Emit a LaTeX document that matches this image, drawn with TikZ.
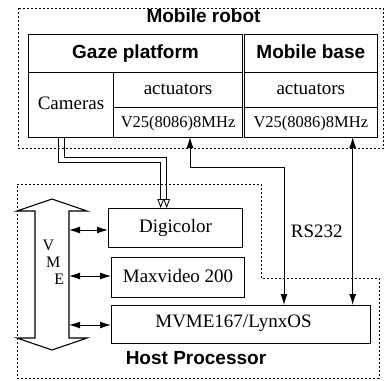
\documentclass[tikz,border=0pt]{standalone}
\usepackage{fontspec}
\setmainfont{Liberation Serif}
\newfontfamily\hvfont{Liberation Sans}
\usetikzlibrary{arrows.meta}
\tikzset{
  txt/.style={font=\fontsize{19}{22}\selectfont},
  small/.style={font=\fontsize{16.5}{20}\selectfont},
  ttl/.style={font=\hvfont\bfseries\fontsize{19}{22}\selectfont, inner sep=0pt, anchor=base},
  cell/.style={draw, line width=1.1pt, inner sep=0pt, anchor=north west, txt,
               text height=13pt, text depth=4pt},
  hcell/.style={cell, font=\hvfont\bfseries\fontsize{19}{22}\selectfont},
  hostbox/.style={draw, line width=1.1pt, inner sep=0pt, anchor=north west, txt,
               text height=13pt, text depth=4pt},
  dotline/.style={line width=0.9pt, dash pattern=on 2pt off 2pt},
  link/.style={line width=1pt, {Latex[length=11pt,width=7pt]}-{Latex[length=11pt,width=7pt]}},
  videolink/.style={line width=0.8pt, -{Triangle[open,length=9pt,width=6.5pt]}},
  bus/.style={line width=1.1pt, line join=miter},
  busletter/.style={font=\fontsize{16}{18}\selectfont, inner sep=0pt, anchor=base}
}
\begin{document}
\begin{tikzpicture}[x=1pt,y=-1pt]
\useasboundingbox (0,0) rectangle (385,380);

% dotted enclosures
\draw[dotline] (18,8) rectangle (383,148.5);
\draw[dotline] (17,184) -- (261,184) -- (261,278) -- (379,278) -- (379,378) -- (17,378) -- cycle;
\node[ttl] (robotlbl) at (203.5,22) {Mobile robot};
\node[ttl] (hostlbl) at (196,364) {Host Processor};

% gaze platform table
\node[hcell, minimum width=214pt, minimum height=38pt] (gazehead) at (28,34) {Gaze platform};
\node[cell, minimum width=85pt, minimum height=65pt] (cameras) at (28,72) {Cameras};
\node[cell, minimum width=129pt, minimum height=35pt] (gact) at (113,72) {actuators};
\node[cell, small, minimum width=129pt, minimum height=30pt] (gv25) at (113,107) {V25(8086)8MHz};

% mobile base table
\node[hcell, minimum width=133.5pt, minimum height=38pt] (basehead) at (243.5,34) {Mobile base};
\node[cell, minimum width=133.5pt, minimum height=35pt] (bact) at (243.5,72) {actuators};
\node[cell, small, minimum width=133.5pt, minimum height=30pt] (bv25) at (243.5,107) {V25(8086)8MHz};

% host boards
\node[hostbox, minimum width=134pt, minimum height=39pt] (digi) at (108,208) {Digicolor};
\node[hostbox, minimum width=133pt, minimum height=40pt] (maxv) at (111,257) {Maxvideo 200};
\node[hostbox, minimum width=259pt, minimum height=38pt] (mvme) at (111,305) {};
\node[txt, inner sep=0pt, anchor=base] (mvmelbl) at (233.5,327) {MVME167/LynxOS};

% VME bus
\coordinate (vtop) at (52,199);
\coordinate (vbot) at (52,350);
\draw[bus] (vtop) -- (87,211) -- (69,211) -- (69,338) -- (87,338) -- (vbot)
  -- (17,338) -- (35,338) -- (35,211) -- (17,211) -- cycle;
\node[busletter] (vv) at (48.3,250) {V};
\node[busletter] (vm) at (53.3,267) {M};
\node[busletter] (ve) at (59.3,284) {E};

\coordinate (b1) at (69,230);
\coordinate (b2) at (69,276);
\coordinate (b3) at (69,325);
\draw[link] (b1) -- (b1 -| digi.west);
\draw[link] (b2) -- (b2 -| maxv.west);
\draw[link] (b3) -- (b3 -| mvme.west);

% video lines from the cameras
\coordinate (c1) at (58.5,137);
\coordinate (c2) at (64,137);
\coordinate (k1) at (160.7,162.7);
\coordinate (k2) at (166.7,157.7);
\draw[videolink] (c1) |- (k1) -- (k1 |- digi.north);
\draw[videolink] (c2) |- (k2) -- (k2 |- digi.north);

% serial links
\coordinate (a1) at (190,137);
\coordinate (a2) at (284,167.3);
\coordinate (a3) at (352.7,137);
\draw[link] (a1) |- (a2) -- (a2 |- mvme.north);
\draw[link] (a3) -- (a3 |- mvme.north);
\node[txt, inner sep=0pt, anchor=base] (rs) at (316.7,237) {RS232};
\end{tikzpicture}
\end{document}
